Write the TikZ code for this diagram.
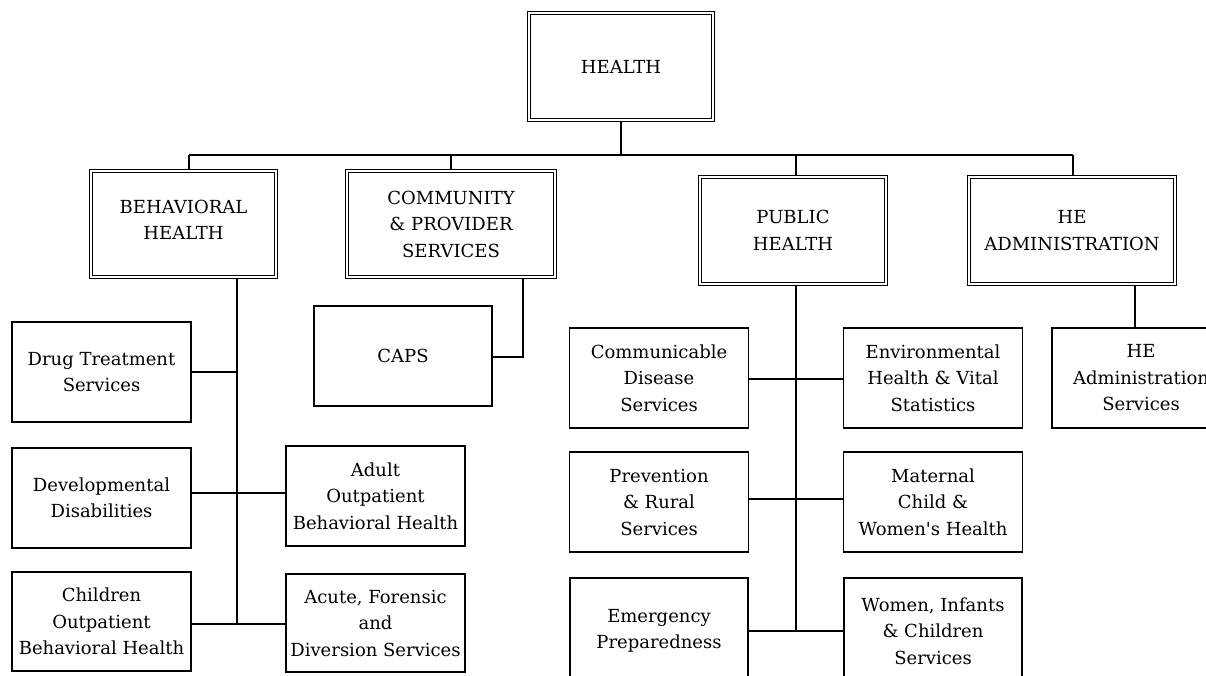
\documentclass[tikz,border=0pt]{standalone}
\usepackage{fontspec}
\setmainfont{DejaVu Serif}[Ligatures=TeXOff]
\newcommand\boxfont{\fontsize{18}{26.5}\selectfont}
\begin{document}
\begin{tikzpicture}[x=1pt,y=-1pt,
  dbox/.style={draw, double, double distance=1.5pt, line width=1.5pt, inner sep=0pt, align=center, font=\boxfont},
  sbox/.style={draw, line width=1.6pt, inner sep=0pt, align=center, font=\boxfont, minimum width=179.5pt, minimum height=100.5pt},
  conn/.style={line width=1.7pt}]
\fill[white] (0,0) rectangle (1206,675);
\useasboundingbox (0,0) rectangle (1206,675);
\clip (0,0) rectangle (1206,675);

% top level
\node[dbox, minimum width=184pt, minimum height=107pt] (health) at (621,66.5) {HEALTH};
\node[dbox, minimum width=185pt, minimum height=106pt,
      label={[yshift=4pt, font=\boxfont, align=center, inner sep=0pt]center:BEHAVIORAL\\HEALTH}] (bh) at (183.5,224) {};
\node[dbox, minimum width=208pt, minimum height=106pt] (cps) at (451,224) {COMMUNITY\\\& PROVIDER\\SERVICES};
\node[dbox, minimum width=186pt, minimum height=107pt] (ph) at (793,230.5) {PUBLIC\\HEALTH};
\node[dbox, minimum width=206pt, minimum height=107pt] (hea) at (1072,230.5) {HE\\ADMINISTRATION};

% behavioral health units
\node[sbox] (drug) at (101.5,372) {Drug Treatment\\Services};
\node[sbox] (dev) at (101.5,498) {Developmental\\Disabilities};
\node[sbox, minimum height=99.5pt] (child) at (101.5,621.5) {Children\\Outpatient\\Behavioral Health};
\node[sbox] (adult) at (375.5,496) {Adult\\Outpatient\\Behavioral Health};
\node[sbox, minimum height=98.5pt] (acute) at (375.5,623) {Acute, Forensic\\and\\Diversion Services};

% community
\node[sbox, minimum width=178.5pt] (caps) at (403,356) {CAPS};

% public health units
\node[sbox, minimum width=179pt] (comm) at (659,378) {Communicable\\Disease\\Services};
\node[sbox, minimum width=179pt] (env) at (933,378) {Environmental\\Health \& Vital\\Statistics};
\node[sbox, minimum width=179pt] (prev) at (659,502) {Prevention\\\& Rural\\Services};
\node[sbox, minimum width=179pt] (mat) at (933,502) {Maternal\\Child \&\\Women's Health};
\node[sbox, minimum width=178.5pt, minimum height=106pt] (emer) at (659,631) {Emergency\\Preparedness};
\node[sbox, minimum width=178.5pt, minimum height=106pt] (wic) at (933,631) {Women, Infants\\\& Children\\Services};

% HE administration unit
\node[sbox, minimum width=178.5pt] (heas) at (1141,378) {HE\\Administration\\Services};

% top connectors
\coordinate (top) at (621,155);
\coordinate (tl) at (189,155);
\coordinate (tr) at (1073,155);
\coordinate (phx) at (795.7,155);
\draw[conn] (health.south) -- (top);
\draw[conn] (tl) -- (tr);
\draw[conn] (tl) -- (tl |- bh.north);
\draw[conn] (cps.north |- top) -- (cps.north);
\draw[conn] (phx) -- (phx |- ph.north);
\draw[conn] (tr) -- (tr |- hea.north);

% behavioral trunk
\coordinate (bt) at (237,624);
\coordinate (bj) at (237,492.7);
\draw[conn] (bh.south -| bt) -- (bt);
\draw[conn] (drug.east) -- (drug.east -| bt);
\draw[conn] (dev.east |- bj) -- (adult.west |- bj);
\draw[conn] (child.east |- bt) -- (acute.west |- bt);

% community to CAPS
\coordinate (cj) at (523,356.7);
\draw[conn] (cps.south -| cj) -- (cj) -- (caps.east |- cj);

% public health trunk
\coordinate (pt) at (795.7,631);
\coordinate (pj1) at (795.7,379.3);
\coordinate (pj2) at (795.7,499.3);
\draw[conn] (ph.south -| pt) -- (pt);
\draw[conn] (comm.east |- pj1) -- (env.west |- pj1);
\draw[conn] (prev.east |- pj2) -- (mat.west |- pj2);
\draw[conn] (emer.east |- pt) -- (wic.west |- pt);

% HE administration
\coordinate (hj) at (1135,300);
\draw[conn] (hea.south -| hj) -- (heas.north -| hj);
\end{tikzpicture}
\end{document}
